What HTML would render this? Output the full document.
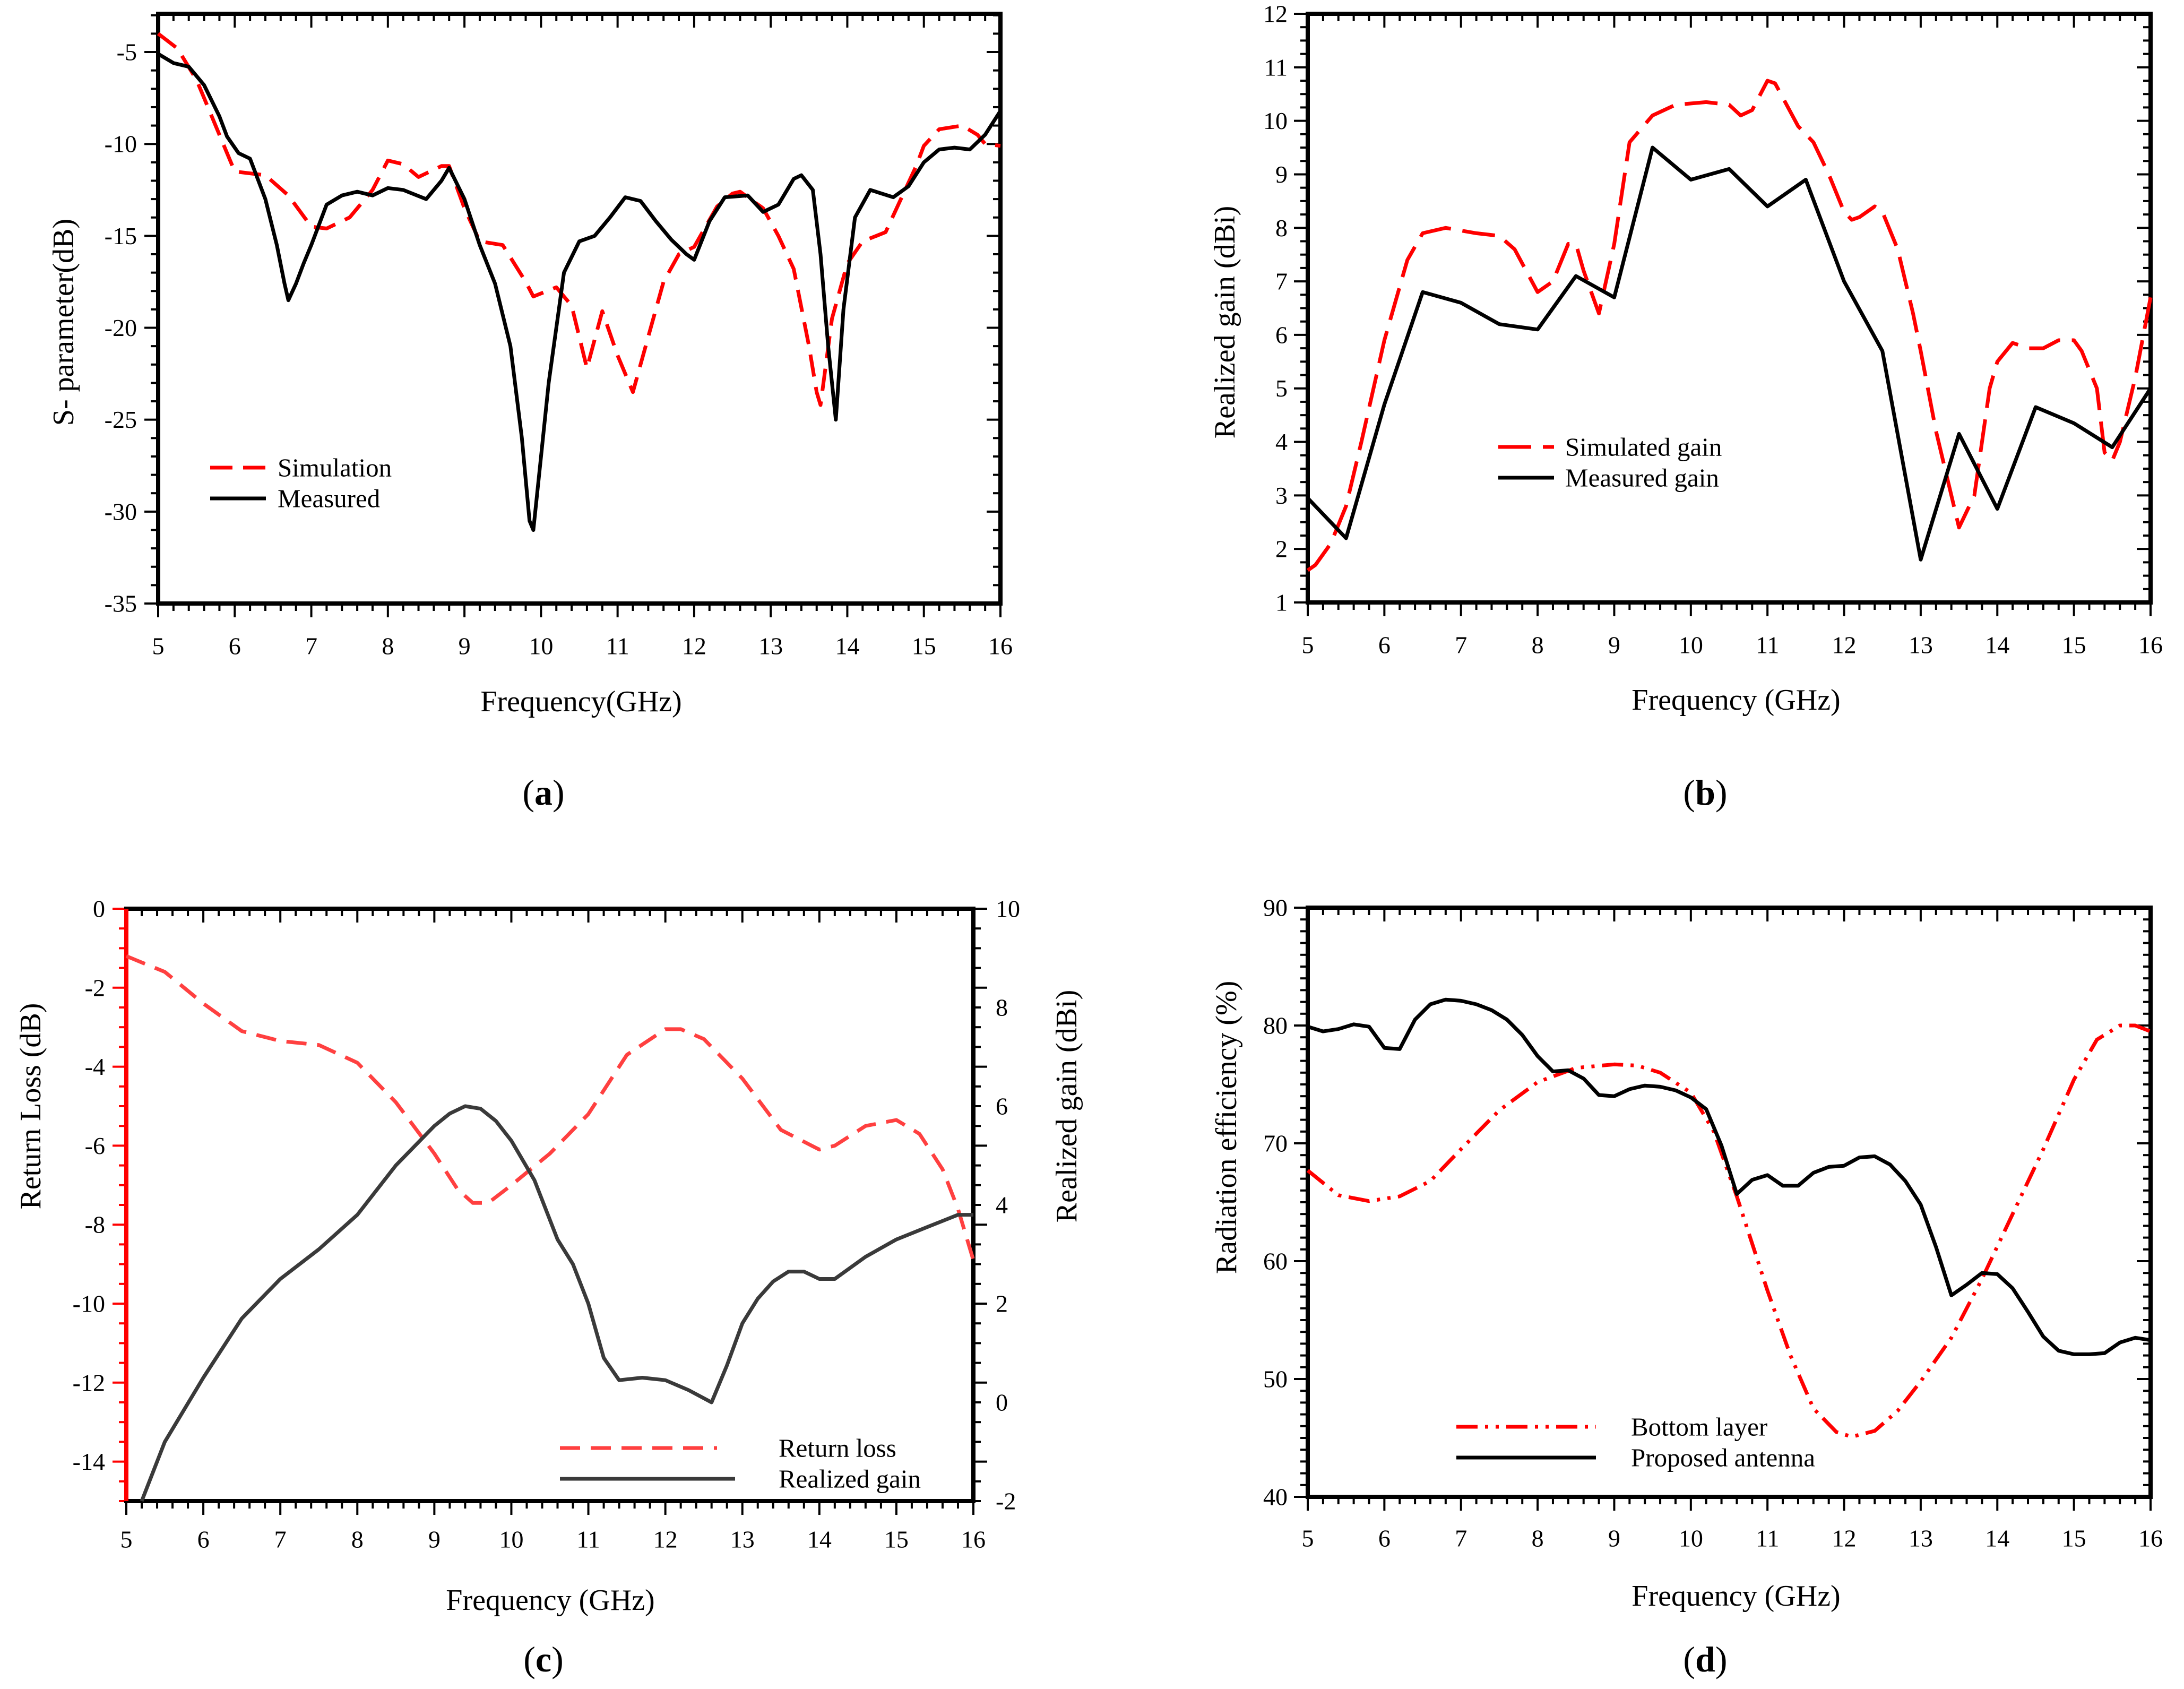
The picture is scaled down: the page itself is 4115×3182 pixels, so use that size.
<!DOCTYPE html>
<html><head><meta charset="utf-8">
<style>
html,body{margin:0;padding:0;background:#fff;}
svg{display:block;font-family:"Liberation Serif",serif;}
</style></head>
<body>
<svg id="fig" xmlns="http://www.w3.org/2000/svg" width="4115" height="3182" viewBox="0 0 4115 3182"></svg>
<script>
// ---------- Panel (a) data ----------
const aFreqSim = [5,5.25,5.5,5.75,5.9,6.0,6.4,6.7,7.0,7.2,7.5,7.8,8.0,8.2,8.4,8.7,8.8,9.0,9.2,9.5,9.8,9.9,10.2,10.4,10.6,10.8,11.0,11.2,11.4,11.6,11.8,12.0,12.3,12.5,12.6,12.9,13.1,13.3,13.5,13.6,13.65,13.8,14.0,14.2,14.5,14.7,14.9,15.0,15.2,15.5,15.7,15.8,16];
const aSim = [-4.0,-4.8,-6.5,-9,-10.5,-11.5,-11.7,-12.8,-14.5,-14.6,-14,-12.5,-10.9,-11.1,-11.8,-11.2,-11.2,-13.5,-15.3,-15.5,-17.5,-18.3,-17.8,-18.8,-22.2,-19.1,-21.5,-23.5,-20.5,-17.5,-16.0,-15.6,-13.4,-12.7,-12.6,-13.5,-15,-16.8,-21,-23.5,-24.2,-19.5,-16.5,-15.3,-14.8,-13,-11.2,-10.1,-9.2,-9,-9.5,-10,-10.1];
const aFreqMeas = [5,5.2,5.4,5.6,5.8,5.9,6.05,6.2,6.4,6.55,6.65,6.7,6.8,6.9,7.0,7.2,7.4,7.6,7.8,8.0,8.2,8.5,8.7,8.8,9.0,9.2,9.4,9.6,9.75,9.85,9.9,10.0,10.1,10.3,10.5,10.7,10.9,11.1,11.3,11.5,11.7,11.9,12.0,12.2,12.4,12.7,12.9,13.1,13.3,13.4,13.55,13.65,13.75,13.85,13.95,14.1,14.3,14.6,14.8,15.0,15.2,15.4,15.6,15.8,16];
const aMeas = [-5.1,-5.6,-5.8,-6.8,-8.5,-9.6,-10.5,-10.8,-13,-15.5,-17.6,-18.5,-17.6,-16.5,-15.5,-13.3,-12.8,-12.6,-12.8,-12.4,-12.5,-13,-12,-11.3,-13,-15.5,-17.6,-21,-26,-30.5,-31,-27,-23,-17,-15.3,-15,-14,-12.9,-13.1,-14.2,-15.2,-16,-16.3,-14.2,-12.9,-12.8,-13.7,-13.3,-11.9,-11.7,-12.5,-16,-21,-25,-19,-14,-12.5,-12.9,-12.3,-11,-10.3,-10.2,-10.3,-9.5,-8.2];
const aYTicks = [-35,-30,-25,-20,-15,-10,-5];
const xTicks = [5,6,7,8,9,10,11,12,13,14,15,16];

// ---------- Panel (b) data ----------
const bFreqSim = [5,5.1,5.3,5.5,5.7,6.0,6.3,6.5,6.8,7.2,7.5,7.7,8.0,8.2,8.4,8.5,8.6,8.8,9.0,9.2,9.5,9.8,10.2,10.5,10.65,10.8,11.0,11.1,11.4,11.6,11.8,12.0,12.1,12.2,12.4,12.5,12.7,12.9,13.0,13.2,13.4,13.5,13.7,13.9,14.0,14.2,14.4,14.6,14.8,15.0,15.1,15.3,15.4,15.5,15.6,15.8,16];
const bSim = [1.6,1.7,2.1,2.8,4,5.9,7.4,7.9,8.0,7.9,7.85,7.6,6.8,7.0,7.7,7.7,7.2,6.4,7.7,9.6,10.1,10.3,10.35,10.3,10.1,10.2,10.75,10.7,9.9,9.6,9.0,8.3,8.15,8.2,8.4,8.3,7.6,6.4,5.7,4.2,3.0,2.4,3.0,5.0,5.5,5.85,5.75,5.75,5.9,5.9,5.7,5.0,3.8,3.65,4.0,5.2,6.7];
const bFreqMeas = [5,5.5,6,6.5,7,7.5,8,8.5,9,9.5,10,10.5,11,11.5,12,12.5,13,13.5,14,14.5,15,15.5,16];
const bMeas = [2.95,2.2,4.7,6.8,6.6,6.2,6.1,7.1,6.7,9.5,8.9,9.1,8.4,8.9,7.0,5.7,1.8,4.15,2.75,4.65,4.35,3.9,5.0];
const bYTicks = [1,2,3,4,5,6,7,8,9,10,11,12];

// ---------- Panel (c) data ----------
const cFreqRL = [5,5.5,6,6.5,7,7.5,8,8.5,9,9.3,9.5,9.7,10,10.5,11,11.5,12,12.2,12.5,13,13.5,14,14.2,14.6,15,15.3,15.6,15.8,16];
const cRL = [-1.2,-1.6,-2.4,-3.1,-3.35,-3.45,-3.9,-4.9,-6.2,-7.1,-7.45,-7.45,-7.0,-6.2,-5.2,-3.7,-3.05,-3.05,-3.3,-4.3,-5.6,-6.1,-6.0,-5.5,-5.35,-5.7,-6.6,-7.6,-8.9];
const cFreqG = [5.2,5.5,6,6.5,7,7.5,8,8.5,9,9.2,9.4,9.6,9.8,10,10.3,10.6,10.8,11,11.2,11.4,11.7,12,12.3,12.6,12.8,13,13.2,13.4,13.6,13.8,14,14.2,14.6,15,15.4,15.8,16];
const cGain = [-2,-0.8,0.5,1.7,2.5,3.1,3.8,4.8,5.6,5.85,6.0,5.95,5.7,5.3,4.5,3.3,2.8,2.0,0.9,0.45,0.5,0.45,0.25,0.0,0.75,1.6,2.1,2.45,2.65,2.65,2.5,2.5,2.95,3.3,3.55,3.8,3.8];
const cYTicksL = [0,-2,-4,-6,-8,-10,-12,-14];
const cYTicksR = [-2,0,2,4,6,8,10];

// ---------- Panel (d) data ----------
const dFreqB = [5,5.4,5.8,6.2,6.6,7,7.5,8,8.5,9,9.3,9.6,10,10.3,10.6,11,11.3,11.6,11.9,12.1,12.4,12.7,13,13.4,13.8,14.2,14.6,15,15.3,15.6,15.8,16];
const dBottom = [67.7,65.6,65.1,65.5,66.8,69.5,72.8,75.2,76.4,76.7,76.6,76.0,74.3,71,65.5,57.5,52,47.5,45.5,45.1,45.6,47.3,49.8,53.5,58.5,64,69.5,75.4,78.8,80.0,80.0,79.5];
const dFreqP = [5,5.2,5.4,5.6,5.8,6.0,6.2,6.4,6.6,6.8,7.0,7.2,7.4,7.6,7.8,8.0,8.2,8.4,8.6,8.8,9.0,9.2,9.4,9.6,9.8,10.0,10.2,10.4,10.6,10.8,11.0,11.2,11.4,11.6,11.8,12.0,12.2,12.4,12.6,12.8,13.0,13.2,13.4,13.6,13.8,14.0,14.2,14.4,14.6,14.8,15.0,15.2,15.4,15.6,15.8,16];
const dProp = [79.9,79.5,79.7,80.1,79.9,78.1,78.0,80.5,81.8,82.2,82.1,81.8,81.3,80.5,79.2,77.4,76.1,76.2,75.5,74.1,74.0,74.6,74.9,74.8,74.5,73.9,72.9,69.8,65.7,66.9,67.3,66.4,66.4,67.5,68.0,68.1,68.8,68.9,68.2,66.8,64.8,61.2,57.1,58.0,59.0,58.9,57.7,55.7,53.6,52.4,52.1,52.1,52.2,53.1,53.5,53.3];
const dYTicks = [40,50,60,70,80,90];

const NS = "http://www.w3.org/2000/svg";
const svg = document.getElementById('fig');
const TICK_FS = 46, TITLE_FS = 56, LEG_FS = 49;
function mk(tag, attrs, parent){
  const e = document.createElementNS(NS, tag);
  for (const k in attrs) e.setAttribute(k, attrs[k]);
  (parent||svg).appendChild(e);
  return e;
}
function txt(s, x, y, size, parent, anchor, extra){
  const t = mk('text', Object.assign({x:x, y:y, 'font-size':size, 'text-anchor':anchor||'middle', 'dominant-baseline':'central', fill:'#000'}, extra||{}), parent);
  t.textContent = s;
  return t;
}
function scale(d0,d1,r0,r1){ return v => r0 + (v-d0)/(d1-d0)*(r1-r0); }
function path(xs, ys, sx, sy){
  let d='';
  for (let i=0;i<xs.length;i++) d += (i?'L':'M') + sx(xs[i]).toFixed(1) + ',' + sy(ys[i]).toFixed(1);
  return d;
}

function axesFrame(g, L, R, T, B, sx, sy, yMin, yMax, yMajor, yMinor, leftColor, rightTicksOut){
  for (let f=5; f<=16.001; f+=0.2){
    const x = sx(f); const major = Math.abs(f-Math.round(f))<0.01;
    mk('line',{x1:x,y1:B,x2:x,y2:B+(major?26:14),stroke:'#000','stroke-width':4},g);
    mk('line',{x1:x,y1:T,x2:x,y2:T+(major?26:14),stroke:'#000','stroke-width':4},g);
  }
  for (let v=yMin; v<=yMax+1e-6; v+=yMinor){
    const y = sy(v); const major = Math.abs(v/yMajor - Math.round(v/yMajor))<0.01;
    mk('line',{x1:L,y1:y,x2:L-(major?26:14),y2:y,stroke:leftColor,'stroke-width':4},g);
    if (rightTicksOut) mk('line',{x1:R,y1:y,x2:R+(major?26:14),y2:y,stroke:'#000','stroke-width':4},g);
    else mk('line',{x1:R,y1:y,x2:R-(major?26:14),y2:y,stroke:'#000','stroke-width':4},g);
  }
  mk('rect',{x:L,y:T,width:R-L,height:B-T,fill:'none',stroke:'#000','stroke-width':8},g);
  if (leftColor !== '#000') mk('line',{x1:L,y1:T,x2:L,y2:B,stroke:leftColor,'stroke-width':8},g);
}

// ================= Panel A =================
(function(){
  const L=298,R=1885,T=26,B=1137;
  const g = mk('g',{});
  
  
  const sx = scale(5,16,L,R), sy = scale(-35,-2.92,B,T);
  axesFrame(g,L,R,T,B,sx,sy,-35,-3,5,1,'#000',false);
  xTicks.forEach(v=>{ const t=txt(String(v), sx(v), B+80, TICK_FS, g);
      });
  aYTicks.forEach(v=>{ const t=txt(String(v), L-40, sy(v), TICK_FS, g, 'end');
      });
  const sim = mk('path',{d:path(aFreqSim,aSim,sx,sy),fill:'none',stroke:'#f00','stroke-width':7,'stroke-dasharray':'42 20','stroke-linejoin':'round'},g);
  
  
  const meas = mk('path',{d:path(aFreqMeas,aMeas,sx,sy),fill:'none',stroke:'#000','stroke-width':7,'stroke-linejoin':'round'},g);
  
  
  mk('line',{x1:396,y1:881,x2:501,y2:881,stroke:'#f00','stroke-width':7,'stroke-dasharray':'42 20'},g);
  mk('line',{x1:396,y1:939,x2:501,y2:939,stroke:'#000','stroke-width':7},g);
  const l1=txt('Simulation',523,881,LEG_FS,g,'start');  
  const l2=txt('Measured',523,939,LEG_FS,g,'start');  
  const xt=txt('Frequency(GHz)',1095,1322,TITLE_FS,g);  
  const yt=txt('S- parameter(dB)',0,0,TITLE_FS,g,'middle',{transform:'translate(120,607) rotate(-90)'});  
  const c=mk('text',{x:1024,y:1493,'font-size':68,'text-anchor':'middle','dominant-baseline':'central'},g);
  c.innerHTML='(<tspan font-weight="bold">a</tspan>)';
   
})();

// ================= Panel B =================
(function(){
  const L=2464,R=4052,T=26,B=1135;
  const g = mk('g',{});
  
  
  const sx = scale(5,16,L,R), sy = scale(1,12,B,T);
  axesFrame(g,L,R,T,B,sx,sy,1,12,1,0.25,'#000',false);
  xTicks.forEach(v=>{ const t=txt(String(v), sx(v), B+80, TICK_FS, g);
      });
  bYTicks.forEach(v=>{ const t=txt(String(v), L-38, sy(v), TICK_FS, g, 'end');
      });
  const sim = mk('path',{d:path(bFreqSim,bSim,sx,sy),fill:'none',stroke:'#f00','stroke-width':7,'stroke-dasharray':'62 22','stroke-linejoin':'round'},g);
  
  
  const meas = mk('path',{d:path(bFreqMeas,bMeas,sx,sy),fill:'none',stroke:'#000','stroke-width':7,'stroke-linejoin':'round'},g);
  
  
  mk('line',{x1:2823,y1:842,x2:2928,y2:842,stroke:'#f00','stroke-width':7,'stroke-dasharray':'62 22'},g);
  mk('line',{x1:2823,y1:900,x2:2928,y2:900,stroke:'#000','stroke-width':7},g);
  const l1=txt('Simulated gain',2949,842,LEG_FS,g,'start');  
  const l2=txt('Measured gain',2949,900,LEG_FS,g,'start');  
  const xt=txt('Frequency (GHz)',3271,1319,TITLE_FS,g);  
  const yt=txt('Realized gain (dBi)',0,0,TITLE_FS,g,'middle',{transform:'translate(2308,607) rotate(-90)'});  
  const c=mk('text',{x:3213,y:1493,'font-size':68,'text-anchor':'middle','dominant-baseline':'central'},g);
  c.innerHTML='(<tspan font-weight="bold">b</tspan>)';
   
})();

// ================= Panel C =================
(function(){
  const L=238,R=1834,T=1712,B=2828;
  const g = mk('g',{});
  
  
  const sx = scale(5,16,L,R), sy = scale(-15,0,B,T), sy2 = scale(-2,10,B,T);
  axesFrame(g,L,R,T,B,sx,sy,-15,0,2,0.5,'#f00',true);
  xTicks.forEach(v=>{ const t=txt(String(v), sx(v), B+72, TICK_FS, g);
      });
  cYTicksL.forEach(v=>{ const t=txt(String(v), L-40, sy(v), TICK_FS, g, 'end');
      });
  cYTicksR.forEach(v=>{ const t=txt(String(v), R+42, sy2(v), TICK_FS, g, 'start');
      });
  const rl = mk('path',{d:path(cFreqRL,cRL,sx,sy),fill:'none',stroke:'#ff4040','stroke-width':7,'stroke-dasharray':'38 20','stroke-linejoin':'round'},g);
  
  
  const gn = mk('path',{d:path(cFreqG,cGain,sx,sy2),fill:'none',stroke:'#3a3a3a','stroke-width':7,'stroke-linejoin':'round'},g);
  
  
  mk('line',{x1:1055,y1:2728,x2:1351,y2:2728,stroke:'#ff4040','stroke-width':7,'stroke-dasharray':'38 20'},g);
  mk('line',{x1:1055,y1:2786,x2:1385,y2:2786,stroke:'#3a3a3a','stroke-width':7},g);
  const l1=txt('Return loss',1467,2728,LEG_FS,g,'start');  
  const l2=txt('Realized gain',1467,2786,LEG_FS,g,'start');  
  const xt=txt('Frequency (GHz)',1037,3015,TITLE_FS,g);  
  const yt=txt('Return Loss (dB)',0,0,TITLE_FS,g,'middle',{transform:'translate(58,2084) rotate(-90)'});  
  const yt2=txt('Realized gain (dBi)',0,0,TITLE_FS,g,'middle',{transform:'translate(2010,2084) rotate(-90)'});  
  const c=mk('text',{x:1024,y:3126,'font-size':68,'text-anchor':'middle','dominant-baseline':'central'},g);
  c.innerHTML='(<tspan font-weight="bold">c</tspan>)';
   
})();

// ================= Panel D =================
(function(){
  const L=2464,R=4052,T=1710,B=2820;
  const g = mk('g',{});
  
  
  const sx = scale(5,16,L,R), sy = scale(40,90,B,T);
  axesFrame(g,L,R,T,B,sx,sy,40,90,10,1,'#000',false);
  xTicks.forEach(v=>{ const t=txt(String(v), sx(v), B+78, TICK_FS, g);
      });
  dYTicks.forEach(v=>{ const t=txt(String(v), L-38, sy(v), TICK_FS, g, 'end');
      });
  const bl = mk('path',{d:path(dFreqB,dBottom,sx,sy),fill:'none',stroke:'#f00','stroke-width':7,'stroke-dasharray':'40 14 6 14 6 14','stroke-linejoin':'round'},g);
  
  
  const pa = mk('path',{d:path(dFreqP,dProp,sx,sy),fill:'none',stroke:'#000','stroke-width':7,'stroke-linejoin':'round'},g);
  
  
  mk('line',{x1:2744,y1:2688,x2:3007,y2:2688,stroke:'#f00','stroke-width':7,'stroke-dasharray':'40 14 6 14 6 14'},g);
  mk('line',{x1:2744,y1:2746,x2:3007,y2:2746,stroke:'#000','stroke-width':7},g);
  const l1=txt('Bottom layer',3073,2688,LEG_FS,g,'start');  
  const l2=txt('Proposed antenna',3073,2746,LEG_FS,g,'start');  
  const xt=txt('Frequency (GHz)',3271,3007,TITLE_FS,g);  
  const yt=txt('Radiation efficiency (%)',0,0,TITLE_FS,g,'middle',{transform:'translate(2311,2124) rotate(-90)'});  
  const c=mk('text',{x:3213,y:3126,'font-size':68,'text-anchor':'middle','dominant-baseline':'central'},g);
  c.innerHTML='(<tspan font-weight="bold">d</tspan>)';
   
})();
</script>
</body></html>
